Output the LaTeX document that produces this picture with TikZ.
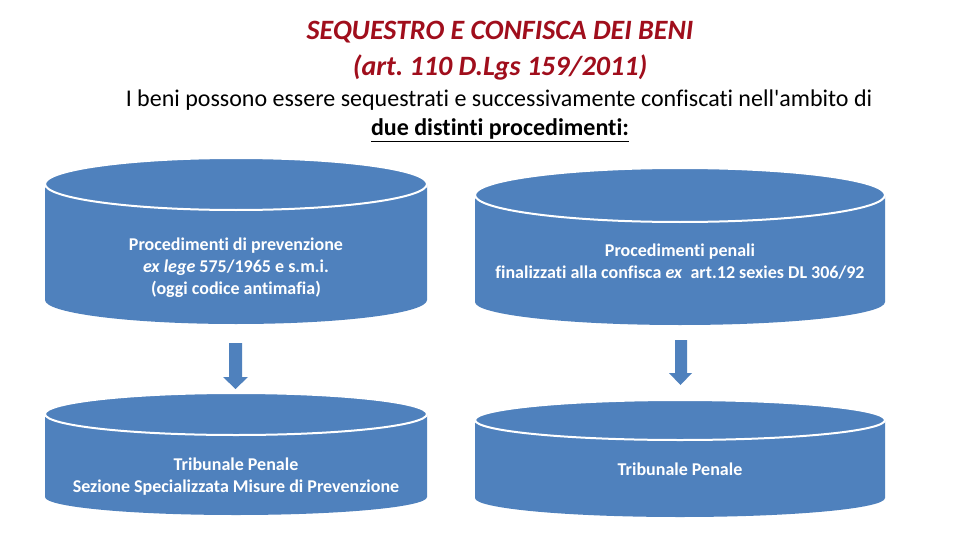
\documentclass[tikz,border=0pt]{standalone}
\usepackage{fontspec}
\setmainfont{Carlito}[Ligatures=NoCommon]
\definecolor{cylblue}{RGB}{79,129,189}
\definecolor{titlered}{RGB}{160,14,28}
\tikzset{
  cylbody/.style={fill=cylblue},
  cyltop/.style={fill=cylblue, draw=white, line width=2pt},
  cyltext/.style={text=white, align=center, font=\bfseries\fontsize{18}{22}\selectfont, inner sep=0pt},
  blockarrow/.style={fill=cylblue},
  titletext/.style={text=titlered, font=\bfseries\itshape\fontsize{28}{30}\selectfont, inner sep=0pt},
  bodytext/.style={text=black, font=\fontsize{24}{28}\selectfont, inner sep=0pt}
}
% #1 x-left, #2 x-right, #3 top centre y, #4 top ry, #5 bottom centre y, #6 bottom ry
\newcommand\drawcyl[6]{%
  \pgfmathsetmacro\cx{(#1+#2)/2}%
  \pgfmathsetmacro\rx{(#2-#1)/2}%
  \fill[cylbody] (#1,#3) -- (#1,#5) arc[start angle=180, end angle=360, x radius=\rx pt, y radius=#6pt] -- (#2,#3) -- cycle;
  \draw[cyltop] (\cx,#3) ellipse[x radius=\rx pt, y radius=#4pt];
}
\frenchspacing
\begin{document}
\frenchspacing
\begin{tikzpicture}[x=1pt,y=-1pt]
\useasboundingbox (0,0) rectangle (960,540);
\fill[white] (0,0) rectangle (960,540);

\node[titletext] (t1) at (500,32) {SEQUESTRO E CONFISCA DEI BENI};
\node[titletext] (t2) at (500,67) {(art. 110 D.Lgs 159/2011)};
\node[bodytext] (b1) at (499,100) {I beni possono essere sequestrati e successivamente confiscati nell\textquotesingle ambito di};
\node[bodytext, font=\bfseries\fontsize{24}{28}\selectfont] (b2) at (500,130) {\underline{due distinti procedimenti:}};

\drawcyl{45}{427}{184}{26}{300}{24}
\drawcyl{475}{885}{195}{27}{302}{23}
\drawcyl{45}{427}{414}{21}{497}{18}
\drawcyl{475}{885}{420}{20}{498}{19}

\node[cyltext] (c1) at (236,268) {Procedimenti di prevenzione\\ \textit{ex lege} 575/1965 e s.m.i.\\ (oggi codice antimafia)};
\node[cyltext] (c2) at (680,261.5) {Procedimenti penali\\ finalizzati alla confisca \textit{ex}\ \ art.12 sexies DL 306/92};
\node[cyltext] (c3) at (236,477) {Tribunale Penale\\ Sezione Specializzata Misure di Prevenzione};
\node[cyltext] (c4) at (680,469) {Tribunale Penale};

\fill[blockarrow] (229,343) -- (242,343) -- (242,377) -- (248,377) -- (235.5,389) -- (223,377) -- (229,377) -- cycle;
\fill[blockarrow] (675,340) -- (687,340) -- (687,373) -- (692,373) -- (680.5,385) -- (669,373) -- (675,373) -- cycle;
\end{tikzpicture}
\end{document}
